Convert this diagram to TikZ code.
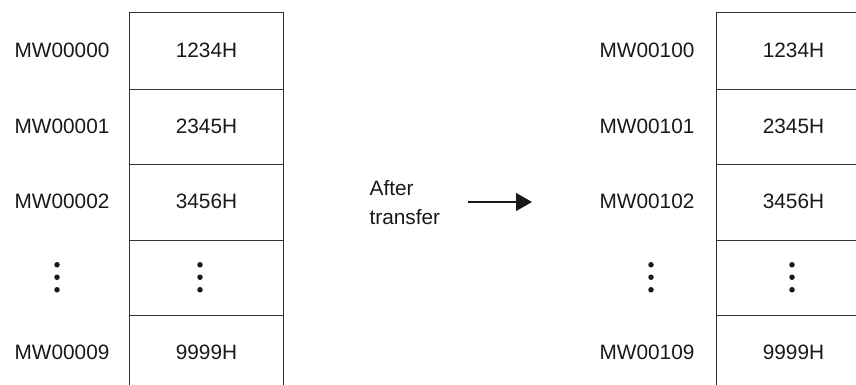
\documentclass[tikz,border=0pt]{standalone}
\usepackage{fontspec}
\setmainfont{Liberation Sans}
\usetikzlibrary{arrows.meta}
\begin{document}
\begin{tikzpicture}[x=1pt,y=-1pt,line width=1.3pt,
  txt/.style={font=\fontsize{20.8}{29}\selectfont,inner sep=0pt,text=black!90},
  cell/.style={txt,minimum width=153pt,minimum height=75.5pt},
  dotc/.style={circle,fill=black!90,draw=none,inner sep=0pt,minimum size=5.5pt},
  boxline/.style={draw=black!80,line width=1.3pt}]
\useasboundingbox (0,0) rectangle (856,384);
\clip (0,0) rectangle (856,384);
% left column
\node[cell] (L1) at (206.5,50.75) {1234H};
\node[cell] (L2) at (206.5,126.25) {2345H};
\node[cell] (L3) at (206.5,201.75) {3456H};
\node[cell] (L4) at (206.5,277.25) {};
\node[cell] (L5) at (206.5,352.75) {9999H};
\node[txt] (LA1) at (62,50.75) {MW00000};
\node[txt] (LA2) at (62,126.25) {MW00001};
\node[txt] (LA3) at (62,201.75) {MW00002};
\node[txt] (LA5) at (62,352.75) {MW00009};
\node[dotc] (ld1) at (57,264.75) {};
\node[dotc] (ld2) at (57,277.25) {};
\node[dotc] (ld3) at (57,289.75) {};
\node[dotc] (lv1) at (200,264.75) {};
\node[dotc] (lv2) at (200,277.25) {};
\node[dotc] (lv3) at (200,289.75) {};
\draw[boxline] (L5.south west) -- (L1.north west) -- (L1.north east) -- (L5.south east);
\foreach \n in {L1,L2,L3,L4} \draw[boxline] (\n.south west) -- (\n.south east);
% right column
\node[cell] (R1) at (793.5,50.75) {1234H};
\node[cell] (R2) at (793.5,126.25) {2345H};
\node[cell] (R3) at (793.5,201.75) {3456H};
\node[cell] (R4) at (793.5,277.25) {};
\node[cell] (R5) at (793.5,352.75) {9999H};
\node[txt] (RA1) at (647,50.75) {MW00100};
\node[txt] (RA2) at (647,126.25) {MW00101};
\node[txt] (RA3) at (647,201.75) {MW00102};
\node[txt] (RA5) at (647,352.75) {MW00109};
\node[dotc] (rd1) at (651,264.75) {};
\node[dotc] (rd2) at (651,277.25) {};
\node[dotc] (rd3) at (651,289.75) {};
\node[dotc] (rv1) at (792,264.75) {};
\node[dotc] (rv2) at (792,277.25) {};
\node[dotc] (rv3) at (792,289.75) {};
\draw[boxline] (R5.south west) -- (R1.north west) -- (R1.north east) -- (R5.south east);
\foreach \n in {R1,R2,R3,R4} \draw[boxline] (\n.south west) -- (\n.south east);
% transfer
\node[txt,align=left,anchor=west] (T) at (369,202.5) {After\\transfer};
\coordinate (a1) at (468,202);
\coordinate (a2) at (532,202);
\draw[black!90,line width=1.3pt,-{Triangle[length=16pt,width=18pt]}] (a1) -- (a2);
\end{tikzpicture}
\end{document}
